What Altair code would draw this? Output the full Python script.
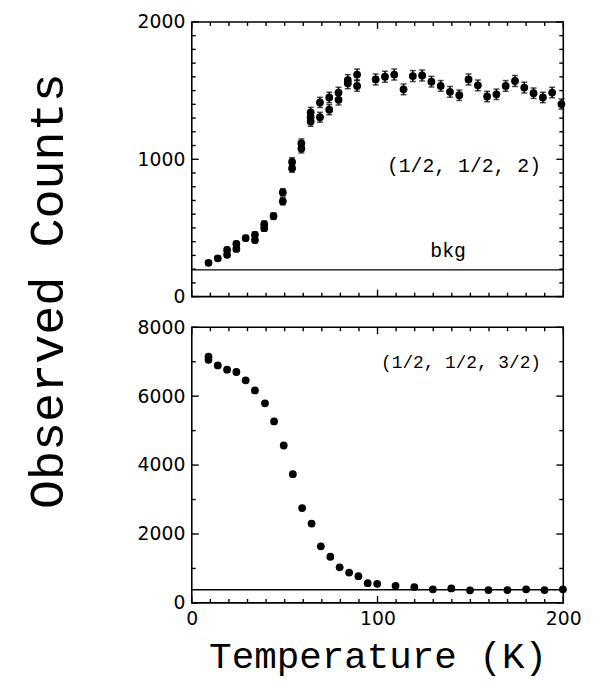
import altair as alt
import pandas as pd

# ---- data ----
# top panel: (1/2, 1/2, 2) reflection, with error bars
top_T = [9, 14, 19, 19, 24, 24, 29, 34, 34, 39, 39, 44, 49, 49, 54, 54, 59, 59,
         64, 64, 64, 69, 69, 74, 74, 79, 79, 84, 84, 89, 89,
         99, 104, 109, 114, 119, 124, 129, 134, 139, 144, 149, 154, 159, 164,
         169, 174, 179, 184, 189, 194, 199]
top_C = [246, 279, 304, 340, 347, 383, 426, 412, 450, 498, 527, 586, 694, 759,
         935, 980, 1078, 1115, 1275, 1306, 1342, 1306, 1414, 1361, 1450, 1433,
         1486, 1553, 1577, 1534, 1617,
         1581, 1601, 1617, 1509, 1606, 1610, 1565, 1534, 1491, 1466, 1581, 1538,
         1457, 1473, 1534, 1570, 1522, 1481, 1450, 1486, 1402]
top_err = [15, 16, 17, 18, 18, 19, 20, 20, 21, 22, 23, 24, 26, 27, 30, 31, 32, 33,
           35, 36, 36, 36, 37, 37, 38, 38, 38, 39, 39, 39, 40,
           40, 40, 40, 39, 40, 40, 39, 39, 39, 38, 40, 39, 38, 38, 39, 40, 39,
           38, 38, 38, 37]
top_bkg = [195]

# bottom panel: (1/2, 1/2, 3/2) reflection
bot_T = [9, 9, 14, 19, 24, 29, 34, 39.4, 44.3, 49.5, 54.4, 59.4, 64.5, 69.5,
         74.6, 79.6, 84.7, 89.7, 94.7, 99.8, 109.7, 119.8, 129.8, 139.7, 149.8,
         159.7, 169.9, 180, 189.9, 199.8]
bot_C = [7149, 7053, 6890, 6767, 6701, 6460, 6165, 5792, 5267, 4568, 3736, 2753,
         2303, 1643, 1339, 1032, 880, 774, 573, 553, 496, 459, 393, 421, 364,
         373, 373, 393, 373, 393]
bot_bkg = [380]

# annotations
top_lab_text = ["(1/2, 1/2, 2)", "bkg"]
top_lab_T = [188, 138]
top_lab_C = [953, 335]
bot_lab_text = ["(1/2, 1/2, 3/2)"]
bot_lab_T = [188]
bot_lab_C = [6968]

# tick positions / labels
x_ticks_minor = [10, 20, 30, 40, 50, 60, 70, 80, 90, 110, 120, 130, 140, 150,
                 160, 170, 180, 190]
x_ticks_major = [0, 100, 200]
x_labels = [0, 100, 200]
top_y_minor = [100, 200, 300, 400, 500, 600, 700, 800, 900, 1100, 1200, 1300,
               1400, 1500, 1600, 1700, 1800, 1900]
top_y_major = [0, 1000, 2000]
bot_y_minor = [1000, 3000, 5000, 7000]
bot_y_major = [0, 2000, 4000, 6000, 8000]

# ---- styling ----
W, H1, H2 = 376, 278, 279
MINOR, MAJOR = 4, 7
LW = 1.4
TICKFONT = "DejaVu Sans"
MONO = "Liberation Mono"

xscale = alt.Scale(domain=[0, 200], nice=False, zero=False)


def tick_layers(ys_minor, ys_major, yscale, H):
    layers = []
    for xs, ln in ((x_ticks_minor, MINOR), (x_ticks_major, MAJOR)):
        d = pd.DataFrame({"t": xs})
        layers.append(alt.Chart(d).mark_rule(color="black", strokeWidth=LW).encode(
            x=alt.X("t:Q", scale=xscale), y=alt.value(H), y2=alt.value(H - ln)))
        layers.append(alt.Chart(d).mark_rule(color="black", strokeWidth=LW).encode(
            x=alt.X("t:Q", scale=xscale), y=alt.value(0), y2=alt.value(ln)))
    for ys, ln in ((ys_minor, MINOR), (ys_major, MAJOR)):
        d = pd.DataFrame({"c": ys})
        layers.append(alt.Chart(d).mark_rule(color="black", strokeWidth=LW).encode(
            y=alt.Y("c:Q", scale=yscale), x=alt.value(0), x2=alt.value(ln)))
        layers.append(alt.Chart(d).mark_rule(color="black", strokeWidth=LW).encode(
            y=alt.Y("c:Q", scale=yscale), x=alt.value(W), x2=alt.value(W - ln)))
    return layers


# ---- top panel ----
ytop = alt.Scale(domain=[0, 2000], nice=False, zero=False)
df_top = pd.DataFrame({"T": top_T, "C": top_C, "err": top_err})
df_top["lo"] = df_top["C"] - df_top["err"]
df_top["hi"] = df_top["C"] + df_top["err"]

x_top_axis = alt.Axis(labels=False, ticks=False, domain=False, grid=False, title=None)
y_top_axis = alt.Axis(values=top_y_major, ticks=False, domain=False, grid=False,
                      labelFont=TICKFONT, labelFontSize=19, labelPadding=7,
                      labelColor="black", format="d", labelFlush=False,
                      title="Observed Counts", titleFont=MONO, titleFontSize=49,
                      titleFontWeight="normal", titleColor="black",
                      titleAngle=270, titleX=-146, titleY=272,
                      titleAlign="center", titleBaseline="middle")

top_base = alt.Chart(df_top)
top_stem = top_base.mark_rule(color="black", strokeWidth=1.5).encode(
    x=alt.X("T:Q", scale=xscale, axis=x_top_axis),
    y=alt.Y("lo:Q", scale=ytop, axis=y_top_axis), y2="hi:Q")
top_cap_lo = top_base.mark_tick(color="black", orient="horizontal", size=6,
                                thickness=1.5).encode(
    x=alt.X("T:Q", scale=xscale), y=alt.Y("lo:Q", scale=ytop))
top_cap_hi = top_base.mark_tick(color="black", orient="horizontal", size=6,
                                thickness=1.5).encode(
    x=alt.X("T:Q", scale=xscale), y=alt.Y("hi:Q", scale=ytop))
top_pts = top_base.mark_circle(color="black", size=62, opacity=1).encode(
    x=alt.X("T:Q", scale=xscale), y=alt.Y("C:Q", scale=ytop))
top_bkg_line = alt.Chart(pd.DataFrame({"b": top_bkg})).mark_rule(
    color="black", strokeWidth=LW).encode(y=alt.Y("b:Q", scale=ytop))
df_tl = pd.DataFrame({"T": top_lab_T, "C": top_lab_C, "txt": top_lab_text})
top_txt1 = alt.Chart(df_tl.iloc[[0]]).mark_text(
    font=MONO, fontSize=20, align="right", baseline="middle", color="black").encode(
    x=alt.X("T:Q", scale=xscale), y=alt.Y("C:Q", scale=ytop), text="txt:N")
top_txt2 = alt.Chart(df_tl.iloc[[1]]).mark_text(
    font=MONO, fontSize=20, align="center", baseline="middle", color="black").encode(
    x=alt.X("T:Q", scale=xscale), y=alt.Y("C:Q", scale=ytop), text="txt:N")

top = alt.layer(top_stem, top_cap_lo, top_cap_hi, top_pts, top_bkg_line,
                top_txt1, top_txt2,
                *tick_layers(top_y_minor, top_y_major, ytop, H1)).properties(
    width=W, height=H1)

# ---- bottom panel ----
ybot = alt.Scale(domain=[0, 8000], nice=False, zero=False)
df_bot = pd.DataFrame({"T": bot_T, "C": bot_C})
x_bot_axis = alt.Axis(values=x_labels, ticks=False, domain=False, grid=False,
                      labelFont=TICKFONT, labelFontSize=19, labelPadding=7,
                      labelColor="black", format="d", labelFlush=False,
                      title="Temperature (K)", titleFont=MONO, titleFontSize=38,
                      titleFontWeight="normal", titleColor="black", titlePadding=9)
y_bot_axis = alt.Axis(values=bot_y_major, ticks=False, domain=False, grid=False,
                      labelFont=TICKFONT, labelFontSize=19, labelPadding=7,
                      labelColor="black", format="d", labelFlush=False, title=None)

bot_pts = alt.Chart(df_bot).mark_circle(color="black", size=62, opacity=1).encode(
    x=alt.X("T:Q", scale=xscale, axis=x_bot_axis),
    y=alt.Y("C:Q", scale=ybot, axis=y_bot_axis))
bot_bkg_line = alt.Chart(pd.DataFrame({"b": bot_bkg})).mark_rule(
    color="black", strokeWidth=LW).encode(y=alt.Y("b:Q", scale=ybot))
df_bl = pd.DataFrame({"T": bot_lab_T, "C": bot_lab_C, "txt": bot_lab_text})
bot_txt = alt.Chart(df_bl).mark_text(
    font=MONO, fontSize=18, align="right", baseline="middle", color="black").encode(
    x=alt.X("T:Q", scale=xscale), y=alt.Y("C:Q", scale=ybot), text="txt:N")

bottom = alt.layer(bot_pts, bot_bkg_line, bot_txt,
                   *tick_layers(bot_y_minor, bot_y_major, ybot, H2)).properties(
    width=W, height=H2)

chart = alt.vconcat(top, bottom, spacing=31, bounds="flush").properties(
    padding={"left": 15, "top": 0, "right": 5, "bottom": 5},
    background="white",
).configure_view(stroke="black", strokeWidth=1.6, fill="white")

chart.save("out.html", embed_options={"renderer": "svg", "actions": False})
